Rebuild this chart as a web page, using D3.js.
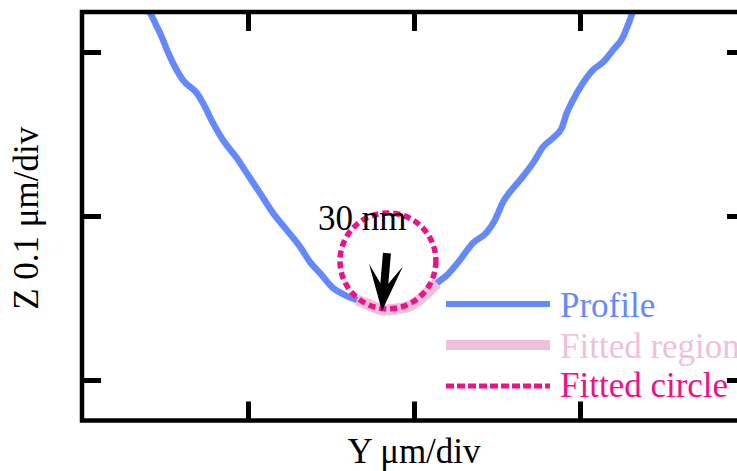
<!DOCTYPE html>
<html>
<head>
<meta charset="utf-8">
<script src="https://cdn.jsdelivr.net/npm/d3@7"></script>
<style>
  html, body { margin: 0; padding: 0; background: #fff; }
  svg { display: block; }
  text { font-family: "Liberation Serif", "Times New Roman", serif; }
</style>
</head>
<body>
<svg id="chart" width="737" height="471"></svg>
<script>
// ---- data (units: divisions) ----
const profileX = [0.386,0.410,0.446,0.480,0.512,0.548,0.608,0.691,0.729,0.789,0.849,0.932,0.992,1.072,1.151,1.233,1.313,1.373,1.434,1.512,1.572,1.657,1.735,1.813,1.886,1.958,2.024,2.078,2.139,2.199,2.277,2.355,2.440,2.488,2.536,2.578,2.639,2.717,2.777,2.837,2.890,2.920,2.958,3.018,3.078,3.139,3.199,3.259,3.289,3.319,3.331];
const profileZ = [1.262,1.238,1.165,1.093,1.012,0.933,0.829,0.750,0.689,0.567,0.463,0.354,0.262,0.140,0.018,-0.085,-0.187,-0.280,-0.348,-0.439,-0.476,-0.512,-0.543,-0.573,-0.567,-0.555,-0.518,-0.470,-0.409,-0.360,-0.268,-0.165,-0.098,-0.024,0.085,0.146,0.220,0.323,0.421,0.476,0.537,0.628,0.707,0.811,0.890,0.939,1.012,1.091,1.165,1.244,1.268];
const fittedRange = [1.63, 2.16];           // x-range of fitted region
const circleCenter = [1.843, -0.274];       // fitted circle centre (x, z)
const circleRadius = 0.289;                 // radius (x-div units)
const arrowFrom = [1.837, -0.226];
const arrowTo = [1.807, -0.579];
const annotation = "30 nm";
const annotationPos = [1.422, -0.085];
const xTicks = [1, 2, 3];
const zTicks = [-1, 0, 1];
const legendLabels = ["Profile", "Fitted region", "Fitted circle"];
const xLabel = "Y μm/div";
const yLabel = "Z 0.1 μm/div";

// ---- styles ----
const cProfile = "#6688ff", cRegion = "#f0c0da", cCircle = "#ee1188";
const fs = 35;

const svg = d3.select("#chart");
const L = 82, R = 746, T = 12, B = 420.5;
const x = d3.scaleLinear().domain([0, 4]).range([L, R]);
const y = d3.scaleLinear().domain([-1.247, 1.244]).range([B, T]);

svg.append("defs").append("clipPath").attr("id", "clip")
  .append("rect").attr("x", L).attr("y", T).attr("width", R - L).attr("height", B - T);

const plot = svg.append("g").attr("clip-path", "url(#clip)");
const pts = profileX.map((v, i) => [v, profileZ[i]]);
const line = d3.line().x(d => x(d[0])).y(d => y(d[1])).curve(d3.curveMonotoneX);

plot.append("path").datum(pts).attr("d", line)
  .attr("fill", "none").attr("stroke", cProfile).attr("stroke-width", 6.5)
  .attr("stroke-linejoin", "round").attr("stroke-linecap", "round");

const region = pts.filter(d => d[0] >= fittedRange[0] && d[0] <= fittedRange[1]);
plot.append("path").datum(region).attr("d", line)
  .attr("fill", "none").attr("stroke", cRegion).attr("stroke-width", 11)
  .attr("stroke-linejoin", "round");

// fitted circle
const rPx = x(circleRadius) - x(0);
plot.append("circle")
  .attr("cx", x(circleCenter[0])).attr("cy", y(circleCenter[1])).attr("r", rPx)
  .attr("fill", "none").attr("stroke", cCircle).attr("stroke-width", 5.5)
  .attr("stroke-dasharray", "7,4");

// arrow
const ax0 = x(arrowFrom[0]), ay0 = y(arrowFrom[1]);
const ax1 = x(arrowTo[0]), ay1 = y(arrowTo[1]);
const len = Math.hypot(ax0 - ax1, ay0 - ay1);
const ux = (ax0 - ax1) / len, uy = (ay0 - ay1) / len;
const px = -uy, py = ux;
const headLen = 46, headHalf = 17, notch = 22;
plot.append("line")
  .attr("x1", ax0).attr("y1", ay0)
  .attr("x2", ax1 + ux * notch).attr("y2", ay1 + uy * notch)
  .attr("stroke", "#000").attr("stroke-width", 8);
plot.append("path")
  .attr("d", d3.line()([
    [ax1, ay1],
    [ax1 + ux * headLen + px * headHalf, ay1 + uy * headLen + py * headHalf],
    [ax1 + ux * notch, ay1 + uy * notch],
    [ax1 + ux * headLen - px * headHalf, ay1 + uy * headLen - py * headHalf]
  ]) + "Z")
  .attr("fill", "#000");

svg.append("text")
  .attr("x", x(annotationPos[0])).attr("y", y(annotationPos[1]))
  .attr("font-size", fs).attr("fill", "#000").text(annotation);

// ---- axes (inward ticks, no labels) ----
const tick = 19;
svg.append("g").attr("transform", `translate(0,${B})`)
  .call(d3.axisBottom(x).tickValues(xTicks).tickSizeInner(-tick).tickSizeOuter(0).tickFormat(""));
svg.append("g").attr("transform", `translate(0,${T})`)
  .call(d3.axisTop(x).tickValues(xTicks).tickSizeInner(-tick).tickSizeOuter(0).tickFormat(""));
svg.append("g").attr("transform", `translate(${L},0)`)
  .call(d3.axisLeft(y).tickValues(zTicks).tickSizeInner(-tick).tickSizeOuter(0).tickFormat(""));
svg.append("g").attr("transform", `translate(${R},0)`)
  .call(d3.axisRight(y).tickValues(zTicks).tickSizeInner(-tick).tickSizeOuter(0).tickFormat(""));
svg.selectAll(".domain").remove();
svg.selectAll(".tick line").attr("stroke", "#000").attr("stroke-width", 5);

svg.append("rect").attr("x", L).attr("y", T).attr("width", R - L).attr("height", B - T)
  .attr("fill", "none").attr("stroke", "#000").attr("stroke-width", 4.5);

// axis titles
svg.append("text").attr("x", (L + R) / 2).attr("y", 463)
  .attr("text-anchor", "middle").attr("font-size", fs).text(xLabel);
svg.append("text").attr("transform", `translate(38,${(T + B) / 2 + 2}) rotate(-90)`)
  .attr("text-anchor", "middle").attr("font-size", fs).text(yLabel);

// ---- legend ----
const lg = svg.append("g");
const legendY = [304, 345, 386];
const legendBase = [317, 358, 397];
const styles = [
  { c: cProfile, w: 6, dash: null },
  { c: cRegion, w: 10, dash: null },
  { c: cCircle, w: 5, dash: "8,3" }
];
legendLabels.forEach((lab, i) => {
  lg.append("line").attr("x1", 446).attr("x2", 550)
    .attr("y1", legendY[i]).attr("y2", legendY[i])
    .attr("stroke", styles[i].c).attr("stroke-width", styles[i].w)
    .attr("stroke-dasharray", styles[i].dash);
  lg.append("text").attr("x", 560).attr("y", legendBase[i])
    .attr("font-size", fs).attr("fill", styles[i].c).text(lab);
});
</script>
</body>
</html>
